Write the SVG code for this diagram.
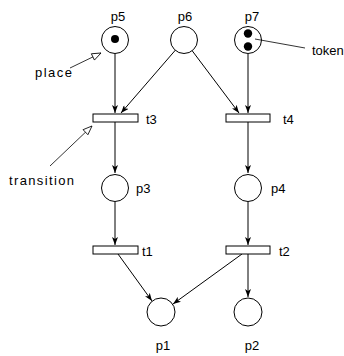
<svg xmlns="http://www.w3.org/2000/svg" width="344" height="356" viewBox="0 0 344 356">
<style>
.pl{fill:#fff;stroke:#000;stroke-width:1}
.tr{fill:#fff;stroke:#000;stroke-width:1}
.tk{fill:#000}
.arc{stroke:#000;stroke-width:1;fill:none;marker-end:url(#ah)}
.ann{stroke:#000;stroke-width:0.8;fill:none;marker-end:url(#oh)}
text{font-family:"Liberation Sans",Arial,sans-serif;font-size:13px;fill:#000}
</style>
<defs>
<marker id="ah" markerUnits="userSpaceOnUse" markerWidth="8" markerHeight="6" refX="8" refY="3" orient="auto"><path d="M0,0 L8,3 L0,6 L2,3 z" fill="#000"/></marker>
<marker id="oh" markerUnits="userSpaceOnUse" markerWidth="11" markerHeight="9" refX="10" refY="4.5" orient="auto"><path d="M1,1 L10,4.5 L1,8 z" fill="#fff" stroke="#000" stroke-width="0.8"/></marker>
</defs>
<rect width="344" height="356" fill="#fff"/>
<g id="connectors">
<line class="arc" x1="115" y1="54" x2="115" y2="113"/>
<line class="arc" x1="175.5" y1="50" x2="121" y2="113"/>
<line class="arc" x1="192" y1="50.5" x2="239" y2="113"/>
<line class="arc" x1="248" y1="54" x2="248" y2="113"/>
<line class="arc" x1="115" y1="122" x2="115" y2="173"/>
<line class="arc" x1="248" y1="122" x2="248" y2="173"/>
<line class="arc" x1="115" y1="202" x2="115" y2="245"/>
<line class="arc" x1="248" y1="202" x2="248" y2="245"/>
<line class="arc" x1="118" y1="254" x2="152" y2="301"/>
<line class="arc" x1="242" y1="254" x2="173" y2="304"/>
<line class="arc" x1="248" y1="254" x2="248" y2="297"/>
</g>
<g id="p5"><circle class="pl" cx="115" cy="40" r="13.5"/><circle class="tk" cx="115" cy="39" r="4"/><text x="118" y="21" text-anchor="middle">p5</text></g>
<g id="p6"><circle class="pl" cx="184" cy="40" r="13.5"/><text x="185" y="21" text-anchor="middle">p6</text></g>
<g id="p7"><circle class="pl" cx="248" cy="40" r="13.5"/><circle class="tk" cx="248" cy="33.5" r="4.2"/><circle class="tk" cx="248" cy="46.5" r="4.2"/><text x="252" y="21" text-anchor="middle">p7</text></g>
<g id="t3"><rect class="tr" x="93" y="114" width="45" height="8"/><text x="146" y="124">t3</text></g>
<g id="t4"><rect class="tr" x="226" y="114" width="44" height="8"/><text x="283" y="124">t4</text></g>
<g id="p3"><circle class="pl" cx="115" cy="188" r="13.5"/><text x="136" y="193">p3</text></g>
<g id="p4"><circle class="pl" cx="248" cy="188" r="13.5"/><text x="271" y="193">p4</text></g>
<g id="t1"><rect class="tr" x="93" y="246" width="45" height="8"/><text x="142" y="256">t1</text></g>
<g id="t2"><rect class="tr" x="226" y="246" width="44" height="8"/><text x="279" y="256">t2</text></g>
<g id="p1"><circle class="pl" cx="161" cy="312" r="14"/><text x="163" y="350" text-anchor="middle">p1</text></g>
<g id="p2"><circle class="pl" cx="248" cy="312" r="14"/><text x="252" y="350" text-anchor="middle">p2</text></g>
<g id="annotations">
<line class="ann" x1="70" y1="68" x2="101" y2="53"/>
<text x="35" y="77" textLength="37" lengthAdjust="spacing">place</text>
<line class="ann" x1="50" y1="166" x2="92" y2="126"/>
<text x="9" y="185" textLength="65" lengthAdjust="spacing">transition</text>
<line x1="255" y1="39" x2="305" y2="48" stroke="#000" stroke-width="0.8"/>
<text x="312" y="55">token</text>
</g>
</svg>
